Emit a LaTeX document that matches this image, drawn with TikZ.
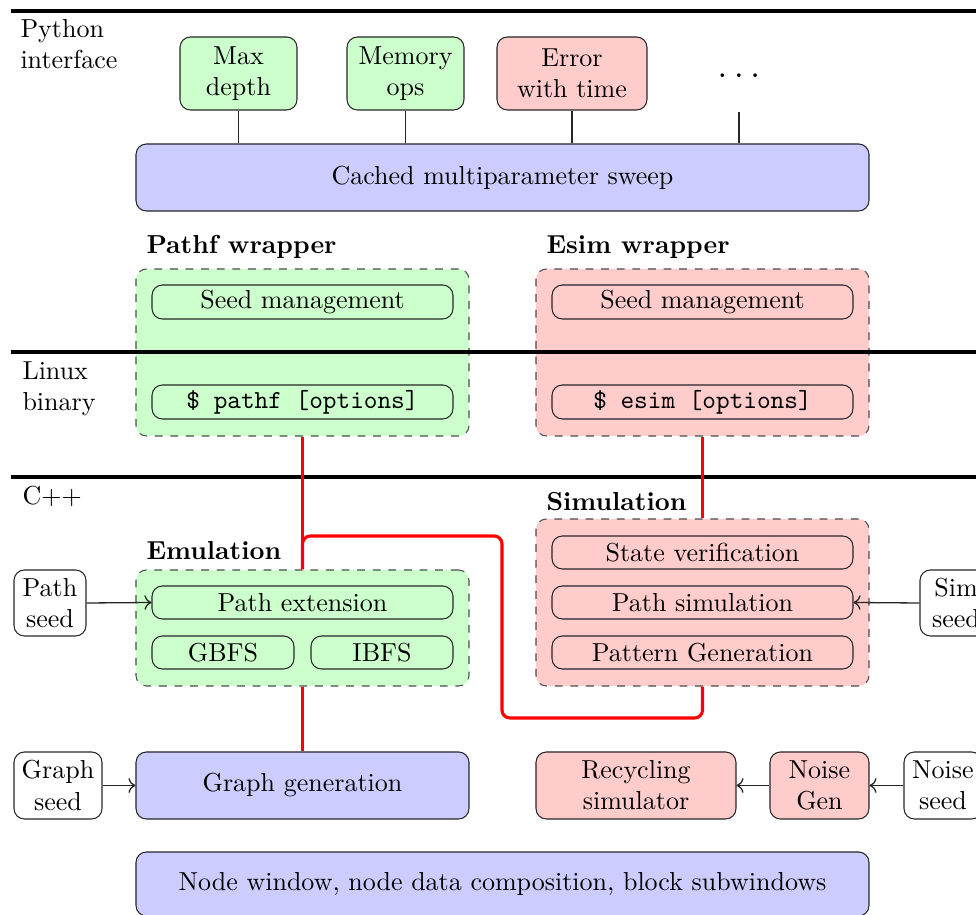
\documentclass[tikz,border=0pt]{standalone}
\usetikzlibrary{arrows.meta}
\begin{document}
\begin{tikzpicture}[x=0.3846pt,y=-0.3846pt,
  sz/.style 2 args={minimum width=#1*0.3846pt, minimum height=#2*0.3846pt, inner sep=0pt},
  box/.style={draw=black!85, rounded corners=4pt, align=center, font=\normalsize},
  gbox/.style={box, fill=green!20},
  rbox/.style={box, fill=red!20},
  bbox/.style={box, fill=blue!20},
  wbox/.style={box, fill=white},
  cont/.style={draw=black!70, dashed, rounded corners=4pt, inner sep=0pt},
  grpl/.style={anchor=west, font=\bfseries, inner sep=0pt},
  lane/.style={anchor=north west, align=left, inner sep=0pt},
  sep/.style={line width=1.2pt},
  redline/.style={red, line width=1.2pt},
  thinl/.style={draw=black!85, line width=0.5pt},
  arr/.style={thinl, ->},
]
\useasboundingbox (0,0) rectangle (976,915);
% lane separators
\coordinate (s1a) at (11,11);  \coordinate (s1b) at (976,11);
\coordinate (s2a) at (11,352); \coordinate (s2b) at (976,352);
\coordinate (s3a) at (11,477); \coordinate (s3b) at (976,477);
% lane labels
\node[lane] (lpy) at (20,19) {Python\\interface};
\node[lane] (llin) at (22,361) {Linux\\binary};
\node[lane] (lcpp) at (22,486) {C++};

% Python interface
\node[gbox, sz={117}{73}] (maxd) at (238.5,73.5) {Max\\depth};
\node[gbox, sz={117}{73}] (memops) at (405.5,73.5) {Memory\\ops};
\node[rbox, sz={150}{73}] (errt) at (572,73.5) {Error\\with time};
\node[sz={40}{70}] (dots) at (739,76) {\Large$\dots$};
\node[bbox, sz={733}{67}] (cached) at (502.5,177.5) {Cached multiparameter sweep};
\foreach \n in {maxd,memops,errt,dots}
  \draw[thinl] (\n.south) -- (\n.south |- cached.north);

% wrappers
\node[cont, fill=green!20, sz={333}{167}] (pwrap) at (302.5,352.5) {};
\node[cont, fill=red!20, sz={333}{167}] (ewrap) at (702.5,352.5) {};
\draw[sep] (s1a) -- (s1b);
\draw[sep] (s2a) -- (s2b);
\draw[sep] (s3a) -- (s3b);
\node[grpl] (pwl) at (146,247) {Pathf wrapper};
\node[grpl] (ewl) at (546,247) {Esim wrapper};
\node[gbox, sz={301}{34}] (seedP) at (302.5,302) {Seed management};
\node[gbox, sz={301}{34}] (binP) at (302.5,402) {\ttfamily \$ pathf [options]};
\node[rbox, sz={301}{34}] (seedE) at (702.5,302) {Seed management};
\node[rbox, sz={301}{34}] (binE) at (702.5,402) {\ttfamily \$ esim [options]};

% Simulation
\node[cont, fill=red!20, sz={333}{167}] (simul) at (702.5,602.5) {};
\node[grpl] (siml) at (546,502) {Simulation};
\node[rbox, sz={301}{33}] (stateV) at (702.5,552.5) {State verification};
\node[rbox, sz={301}{33}] (pathS) at (702.5,602.5) {Path simulation};
\node[rbox, sz={301}{33}] (patG) at (702.5,652.5) {Pattern Generation};

% Emulation
\node[cont, fill=green!20, sz={333}{116}] (emul) at (302.5,628) {};
\node[grpl] (emll) at (146,551) {Emulation};
\node[gbox, sz={301}{33}] (pathE) at (302.5,602.5) {Path extension};
\node[gbox, sz={142}{33}] (gbfs) at (223,652.5) {GBFS};
\node[gbox, sz={142}{33}] (ibfs) at (382,652.5) {IBFS};

% seeds
\node[wbox, sz={72}{66}] (pseed) at (50,603) {Path\\seed};
\node[wbox, sz={72}{66}] (sseed) at (956,603) {Sim\\seed};
\node[wbox, sz={88}{67}] (gseed) at (58,785.5) {Graph\\seed};
\node[wbox, sz={78}{67}] (nseed) at (943,785.5) {Noise\\seed};

% bottom row
\node[bbox, sz={333}{67}] (graphgen) at (302.5,785.5) {Graph generation};
\node[rbox, sz={200}{67}] (recyc) at (636,785.5) {Recycling\\simulator};
\node[rbox, sz={99}{67}] (noisegen) at (819.5,785.5) {Noise\\Gen};
\node[bbox, sz={733}{64}] (nodewin) at (502.5,884) {Node window, node data composition, block subwindows};

% arrows
\draw[arr] (pseed.east) -- (pathE.west);
\draw[arr] (sseed.west) -- (pathS.east);
\draw[arr] (gseed.east) -- (graphgen.west);
\draw[arr] (nseed.west) -- (noisegen.east);
\draw[arr] (noisegen.west) -- (recyc.west -| recyc.east);

% red connectors
\coordinate (loopA) at (502,536);
\coordinate (loopB) at (502,718);
\draw[redline] (pwrap.south) -- (emul.north);
\draw[redline] (ewrap.south) -- (simul.north);
\draw[redline] (emul.south) -- (graphgen.north);
\draw[redline, rounded corners=3pt] (emul.north) |- (loopA) -- (loopB) -| (simul.south);
\end{tikzpicture}
\end{document}
